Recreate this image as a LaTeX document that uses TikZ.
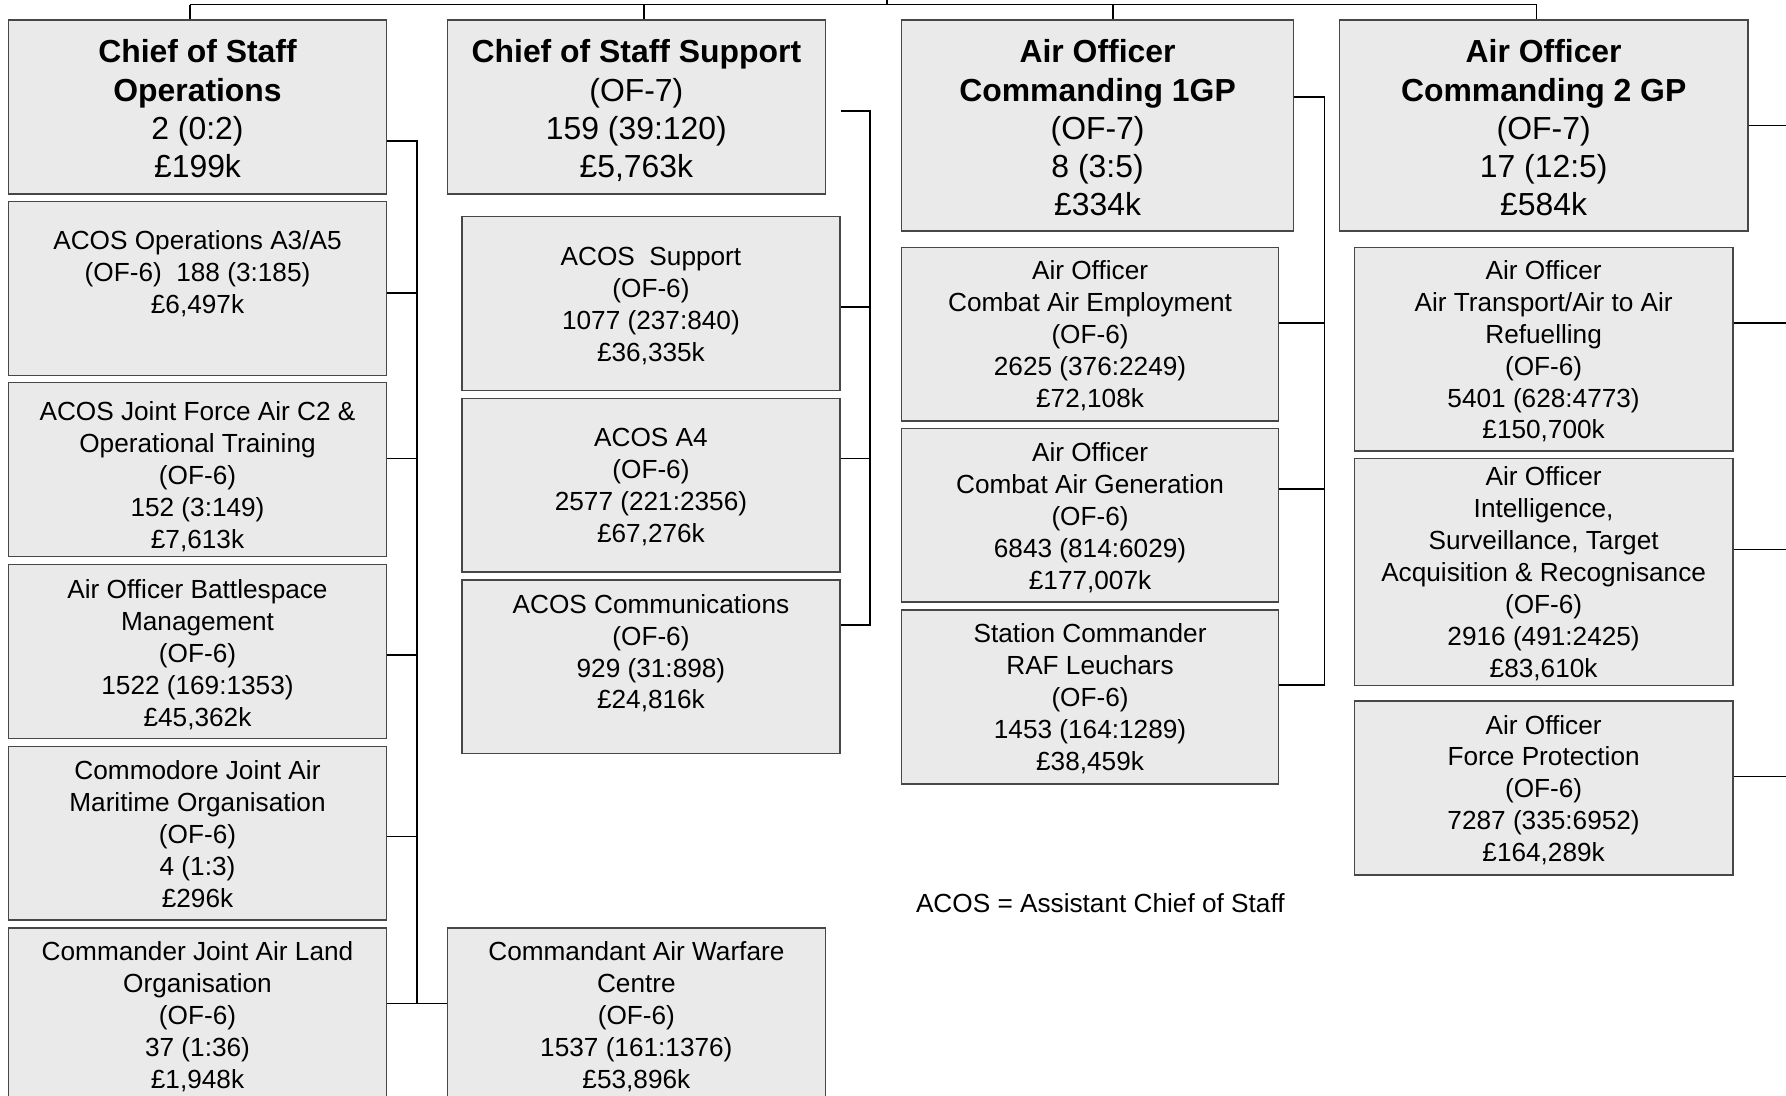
\documentclass[tikz,border=0pt]{standalone}
\usepackage{fontspec}
\setmainfont{Liberation Sans}
\usetikzlibrary{fit}
\definecolor{boxgray}{HTML}{EAEAEA}
\tikzset{
  orgbox/.style={draw=black!72, fill=boxgray, line width=1.2pt, inner sep=0pt, rectangle},
  conn/.style={draw=black, line width=1.5pt},
  bodytxt/.style={font=\fontsize{23}{28}\selectfont, align=center, inner sep=0pt, anchor=north, yshift=11.4pt},
  headtxt/.style={font=\fontsize{28}{33.5}\selectfont, align=center, inner sep=0pt, anchor=north, yshift=13.45pt},
  legendtxt/.style={font=\fontsize{23}{28}\selectfont, inner sep=0pt, anchor=west},
}
% \obox[text style]{name}{x1}{y1}{x2}{y2}{first line y}{text}
\newcommand\obox[8][bodytxt]{%
  \node[orgbox, fit={(#3,#4) (#5,#6)}] (#2) {};
  \node[#1] (#2t) at (#2.center |- 0,#7) {\strut #8};
}
\begin{document}
\begin{tikzpicture}[x=1pt, y=-1pt]
\path[use as bounding box] (0,0) rectangle (1568,962);
\clip (0,0) rectangle (1568,962);

% column 1
\obox[headtxt]{c1}{7.6}{17.6}{339.2}{170.3}{45}{\textbf{Chief of Staff}\\\textbf{Operations}\\2 (0:2)\\£199k}
\obox{ops}{7.6}{177}{339.2}{329.5}{211}{ACOS Operations A3/A5\\(OF-6)\ \ 188 (3:185)\\£6,497k}
\obox{jf}{7.6}{336}{339.2}{488.7}{361}{ACOS Joint Force Air C2 \&\\Operational Training\\(OF-6)\\152 (3:149)\\£7,613k}
\obox{bsm}{7.6}{495.7}{339.2}{648.5}{517}{Air Officer Battlespace\\Management\\(OF-6)\\1522 (169:1353)\\£45,362k}
\obox{jamo}{7.6}{655.6}{339.2}{807.6}{676}{Commodore Joint Air\\Maritime Organisation\\(OF-6)\\4 (1:3)\\£296k}
\obox{jalo}{7.6}{814.6}{339.2}{1000}{835}{Commander Joint Air Land\\Organisation\\(OF-6)\\37 (1:36)\\£1,948k}

% column 2
\obox[headtxt]{c2}{392.6}{17.6}{724.8}{170.3}{45}{\textbf{Chief of Staff Support}\\(OF-7)\\159 (39:120)\\£5,763k}
\obox{sup}{405.7}{190.2}{737.3}{342.7}{225}{ACOS\ \ Support\\(OF-6)\\1077 (237:840)\\£36,335k}
\obox{a4}{405.7}{350}{737.3}{502.2}{384}{ACOS A4\\(OF-6)\\2577 (221:2356)\\£67,276k}
\obox{comm}{405.7}{509.2}{737.3}{661.7}{530}{ACOS Communications\\(OF-6)\\929 (31:898)\\£24,816k}
\obox{awc}{392.6}{814.6}{724.8}{1000}{835}{Commandant Air Warfare\\Centre\\(OF-6)\\1537 (161:1376)\\£53,896k}

% column 3
\obox[headtxt]{c3}{791.4}{17.6}{1135.8}{202.8}{45}{\textbf{Air Officer}\\\textbf{Commanding 1GP}\\(OF-7)\\8 (3:5)\\£334k}
\obox{cae}{791.4}{217.1}{1122.6}{369.6}{237}{Air Officer\\Combat Air Employment\\(OF-6)\\2625 (376:2249)\\£72,108k}
\obox{cag}{791.4}{376.4}{1122.6}{528.5}{397}{Air Officer\\Combat Air Generation\\(OF-6)\\6843 (814:6029)\\£177,007k}
\obox{stn}{791.4}{535.6}{1122.6}{688.3}{556}{Station Commander\\RAF Leuchars\\(OF-6)\\1453 (164:1289)\\£38,459k}

% column 4
\obox[headtxt]{c4}{1175.9}{17.6}{1534.6}{202.8}{45}{\textbf{Air Officer}\\\textbf{Commanding 2 GP}\\(OF-7)\\17 (12:5)\\£584k}
\obox{at}{1189.1}{217.1}{1521.3}{396}{237}{Air Officer\\Air Transport/Air to Air\\Refuelling\\(OF-6)\\5401 (628:4773)\\£150,700k}
\obox{istar}{1189.1}{402.7}{1521.3}{602}{418}{Air Officer\\Intelligence,\\Surveillance, Target\\Acquisition \& Recognisance\\(OF-6)\\2916 (491:2425)\\£83,610k}
\obox{fp}{1189.1}{615.5}{1521.3}{768.2}{636}{Air Officer\\Force Protection\\(OF-6)\\7287 (335:6952)\\£164,289k}

% legend
\node[legendtxt] (legend) at (804,793) {ACOS = Assistant Chief of Staff};

% top bus
\coordinate (t1) at (166.8,4);
\coordinate (t2) at (565.5,4);
\coordinate (tc) at (779,4);
\coordinate (t3) at (976.9,4);
\coordinate (t4) at (1349,4);
\coordinate (tup) at (779,-20);
\draw[conn] (t1) -- (t4);
\draw[conn] (tc) -- (tup);
\draw[conn] (t1) -- (t1 |- c1.north);
\draw[conn] (t2) -- (t2 |- c2.north);
\draw[conn] (t3) -- (t3 |- c3.north);
\draw[conn] (t4) -- (t4 |- c4.north);

% column 1 bus
\coordinate (b1t) at (366,124);
\coordinate (b1b) at (366,881);
\draw[conn] (c1.east |- b1t) -- (b1t) -- (b1b);
\draw[conn] (jalo.east |- b1b) -- (awc.west |- b1b);
\foreach \n/\y in {ops/257, jf/402.4, bsm/575.3, jamo/734.5}
  \draw[conn] (\n.east |- 0,\y) -- (b1t |- 0,\y);

% column 2 bus
\coordinate (c2tap) at (738,97.5);
\coordinate (b2t) at (764,97.5);
\coordinate (b2b) at (764,548.6);
\draw[conn] (c2tap) -- (b2t) -- (b2b) -- (comm.east |- b2b);
\foreach \n/\y in {sup/269.8, a4/402.4}
  \draw[conn] (\n.east |- 0,\y) -- (b2t |- 0,\y);

% column 3 bus
\coordinate (b3t) at (1162.7,84.9);
\coordinate (b3b) at (1162.7,601.4);
\draw[conn] (c3.east |- b3t) -- (b3t) -- (b3b) -- (stn.east |- b3b);
\foreach \n/\y in {cae/283.3, cag/429}
  \draw[conn] (\n.east |- 0,\y) -- (b3t |- 0,\y);

% column 4 (bus beyond right edge)
\coordinate (edge) at (1580,0);
\foreach \n/\y in {c4/110.3, at/283.3, istar/482.3, fp/681.6}
  \draw[conn] (\n.east |- 0,\y) -- (edge |- 0,\y);
\end{tikzpicture}
\end{document}
